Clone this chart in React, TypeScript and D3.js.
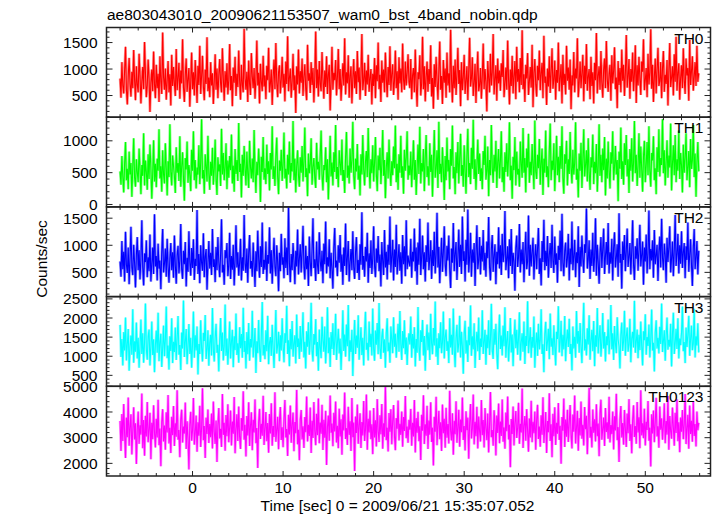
import React, { useLayoutEffect } from "react";
import * as d3 from "d3";

const TITLE = "ae803043010_20090621153507_wam0_bst_4band_nobin.qdp";
const X_LABEL = "Time [sec] 0 = 2009/06/21 15:35:07.052";
const Y_LABEL = "Counts/sec";
const T_START = -8;
const T_END = 56;
const X_DOMAIN = [-9.5, 57.2];
const X_MAJOR_TICKS = [0, 10, 20, 30, 40, 50];
const X_MINOR_STEP = 2;

const TH0 = [
  820, 460, 1130, 690, 540, 980, 1420, 610, 330, 870, 1210, 720, 480, 950, 640, 1360, 790, 410, 1050, 700,
  560, 1290, 880, 350, 760, 1040, 620, 1510, 930, 470, 690, 1180, 820, 190, 740, 990, 580, 1330, 710, 450,
  1080, 640, 910, 380, 1240, 770, 530, 1690, 850, 610, 1010, 420, 780, 1150, 560, 900, 310, 1270, 680, 1040,
  720, 490, 1380, 600, 830, 1120, 440, 970, 730, 1560, 650, 380, 890, 1200, 570, 810, 1020, 290, 750, 1310,
  620, 940, 500, 1170, 780, 360, 1060, 700, 1440, 530, 860, 1250, 670, 410, 990, 720, 1600, 580, 840, 470,
  1130, 690, 920, 340, 770, 1280, 610, 1010, 450, 880, 1190, 730, 560, 1390, 820, 400, 960, 650, 1110, 520,
  790, 1470, 600, 870, 300, 1030, 740, 1230, 490, 910, 660, 1350, 780, 420, 1080, 700, 560, 1760, 830, 610,
  950, 380, 1160, 720, 510, 1300, 860, 640, 1020, 440, 800, 1540, 690, 930, 350, 1100, 760, 580, 1250, 670,
  880, 430, 1060, 790, 1400, 560, 730, 990, 320, 850, 1180, 620, 1490, 760, 470, 940, 1070, 540, 800, 1230,
  650, 910, 390, 1140, 720, 1620, 580, 830, 1010, 460, 770, 1290, 600, 880, 170, 1050, 710, 1370, 540, 960,
  740, 1200, 490, 860, 1090, 630, 410, 1460, 780, 920, 550, 1130, 700, 1020, 370, 840, 1710, 640, 990, 480,
  1150, 720, 580, 1320, 810, 440, 970, 660, 1240, 530, 890, 1080, 220, 760, 1420, 610, 930, 790, 1170, 500,
  850, 1380, 620, 1000, 400, 780, 1110, 690, 1580, 520, 940, 730, 1260, 460, 870, 1050, 350, 820, 1190, 640,
  960, 530, 1340, 750, 1030, 420, 880, 1660, 600, 790, 1120, 490, 970, 710, 1270, 570, 830, 1000, 330, 910,
  680, 1210, 450, 1070, 770, 1500, 620, 890, 380, 1160, 740, 990, 560, 1310, 820, 470, 1040, 700, 1430, 590,
  900, 1090, 510, 780, 1350, 640, 960, 420, 1220, 730, 1010, 560, 1480, 800, 610, 1140, 690, 930, 1280, 760,
  640, 1190, 430, 880, 1020, 560, 1370, 700, 290, 940, 810, 1260, 500, 730, 1610, 620, 1050, 390, 860, 1140,
  570, 1000, 720, 1450, 480, 830, 250, 1090, 660, 1230, 780, 420, 960, 1520, 610, 870, 340, 1170, 740, 1010,
  460, 1310, 690, 920, 560, 1740, 800, 370, 1060, 640, 1180, 510, 890, 1400, 720, 980, 300, 1130, 600, 850,
  1270, 530, 780, 1050, 410, 960, 1590, 670, 820, 1220, 490, 740, 1100, 360, 910, 1330, 580, 700, 1020, 440,
  880, 1480, 620, 1000, 750, 200, 1150, 830, 560, 1290, 690, 940, 1660, 520, 810, 1070, 400, 1200, 730, 970,
  590, 1110, 850, 1360, 470, 720, 1030, 610, 1540, 800, 330, 990, 680, 1250, 540, 870, 1150, 430, 1420, 760,
  1000, 560, 1210, 700, 1730, 620, 900, 380, 1080, 820, 1300, 510, 770, 1040, 650, 1460, 280, 930, 1190, 710,
  480, 1060, 790, 1350, 600, 920, 1120, 450, 1630, 740, 860, 320, 1010, 670, 1240, 550, 950, 1390, 630, 810,
  1160, 420, 980, 740, 1500, 580, 830, 1090, 350, 1270, 700, 910, 520, 1440, 780, 1030, 610, 1180, 240, 880,
  690, 1320, 560, 1010, 820, 1580, 470, 750, 1140, 640, 920, 1270, 390, 1060, 720, 1470, 590, 860, 1000, 430,
  1230, 680, 940, 350, 1120, 790, 1680, 540, 870, 1050, 610, 1340, 750, 460, 990, 1200, 640, 1530, 810, 570,
  910, 1080, 400, 1260, 730, 960, 1410, 620, 840, 260, 1150, 700, 1020, 560, 1370, 780, 1080, 490, 930, 1640,
  650, 870, 1190, 440, 1000, 760, 1310, 580, 900, 1450, 360, 1070, 690, 1230, 820, 510, 1140, 950, 1560, 600,
  790, 1020, 470, 1290, 710, 930, 1750, 630, 1080, 380, 860, 1200, 540, 990, 1400, 680, 770, 1130, 450, 1010,
  1340, 570, 890, 720, 1170, 310, 960, 1490, 660, 840, 1050, 500, 1280, 760, 1610, 590, 920, 1110, 420, 830,
  1070, 640, 1390, 780, 530, 1200, 880, 1020, 400, 1550, 700, 960, 1240, 590, 850, 1130, 680, 1440, 760, 920,
];

const TH1 = [
  520, 310, 760, 440, 190, 640, 980, 380, 560, 240, 830, 470, 650, 120, 590, 1040, 420, 280, 710, 500,
  350, 880, 560, 160, 620, 450, 1120, 300, 690, 510, 230, 790, 400, 940, 580, 90, 480, 1010, 360, 640,
  270, 720, 530, 1180, 410, 600, 200, 850, 470, 330, 960, 560, 140, 680, 430, 1260, 520, 300, 770, 610,
  440, 180, 900, 500, 650, 370, 1070, 280, 590, 820, 420, 60, 730, 550, 990, 340, 620, 460, 210, 860,
  530, 1150, 380, 700, 250, 580, 470, 930, 320, 660, 1340, 410, 540, 170, 790, 600, 360, 1080, 490, 230,
  670, 450, 890, 310, 560, 1020, 400, 150, 740, 520, 630, 290, 1190, 470, 810, 380, 580, 960, 240, 690,
  420, 760, 540, 1100, 330, 610, 200, 870, 480, 700, 370, 1280, 510, 640, 110, 780, 450, 920, 560, 300,
  830, 490, 260, 1000, 590, 410, 720, 350, 1170, 530, 180, 670, 460, 880, 620, 40, 750, 510, 1060, 390,
  570, 320, 940, 480, 680, 220, 810, 550, 1230, 400, 600, 290, 760, 1050, 440, 160, 690, 530, 860, 370,
  630, 1130, 410, 560, 250, 780, 470, 990, 340, 650, 520, 1310, 380, 720, 190, 600, 850, 450, 280, 740,
  500, 920, 360, 680, 1210, 430, 570, 130, 800, 490, 640, 1040, 310, 590, 730, 420, 260, 970, 550, 670,
  390, 760, 1160, 480, 220, 620, 540, 900, 350, 710, 80, 580, 1080, 440, 660, 300, 820, 510, 1250, 400,
  590, 270, 850, 640, 460, 1020, 370, 540, 180, 750, 1140, 420, 610, 330, 880, 500, 690, 1300, 450, 240,
  720, 520, 950, 390, 610, 140, 790, 470, 1090, 560, 300, 680, 840, 430, 1200, 580, 250, 710, 490, 930,
  360, 650, 1060, 480, 210, 770, 540, 890, 320, 620, 1170, 450, 700, 100, 580, 820, 410, 1020, 530, 290,
  680, 460, 910, 570, 1240, 350, 640, 230, 790, 500, 1080, 420, 600, 170, 860, 530, 740, 1150, 390, 610,
  460, 830, 270, 620, 1010, 390, 700, 150, 560, 940, 480, 1220, 330, 650, 520, 870, 210, 740, 1090, 430,
  600, 300, 960, 510, 780, 120, 690, 1170, 420, 570, 850, 260, 1300, 480, 640, 350, 900, 550, 70, 760,
  380, 1050, 520, 700, 240, 870, 610, 1240, 410, 590, 160, 820, 490, 980, 330, 720, 1110, 450, 620, 280,
  930, 540, 170, 760, 1190, 430, 650, 320, 890, 560, 1330, 400, 710, 230, 600, 1020, 480, 800, 370, 570,
  240, 840, 620, 1080, 390, 530, 910, 130, 700, 460, 1250, 580, 340, 780, 520, 1000, 260, 660, 870, 410,
  690, 1150, 350, 590, 200, 820, 510, 960, 440, 720, 1290, 380, 610, 90, 750, 540, 1060, 300, 830, 470,
  560, 280, 990, 640, 420, 1200, 500, 730, 190, 880, 580, 1110, 340, 670, 460, 950, 610, 240, 1320, 520,
  400, 780, 570, 1030, 310, 650, 880, 150, 720, 500, 1160, 430, 600, 270, 840, 1270, 380, 690, 540, 960,
  210, 610, 1080, 460, 750, 350, 920, 560, 1230, 420, 170, 790, 640, 1000, 300, 710, 480, 1140, 580, 330,
  860, 470, 650, 1290, 390, 560, 110, 800, 530, 970, 260, 690, 1180, 440, 620, 850, 360, 1040, 500, 230,
  740, 580, 1100, 320, 670, 490, 950, 200, 610, 1260, 450, 780, 350, 880, 540, 1060, 140, 720, 410, 990,
  530, 250, 820, 640, 1150, 380, 590, 920, 470, 700, 50, 830, 560, 1210, 400, 680, 310, 960, 620, 1090,
  440, 710, 180, 870, 530, 1040, 360, 650, 1310, 490, 780, 290, 600, 1120, 420, 910, 570, 200, 760, 1000,
  350, 620, 980, 460, 1230, 540, 280, 810, 690, 1070, 380, 570, 160, 900, 510, 1180, 440, 730, 620, 1340,
  490, 850, 300, 660, 1010, 420, 770, 580, 1270, 220, 640, 930, 460, 1090, 350, 710, 530, 1160, 400, 810,
  610, 190, 940, 500, 730, 1120, 380, 590, 840, 270, 1030, 560, 690, 1250, 430, 800, 120, 660, 980, 520,
];

const TH2 = [
  700, 420, 1080, 560, 880, 330, 1250, 640, 490, 960, 280, 760, 1340, 590, 450, 1010, 680, 220, 830, 1150,
  540, 910, 370, 740, 1460, 600, 260, 850, 690, 1090, 410, 780, 520, 1200, 330, 650, 960, 470, 1570, 610,
  800, 350, 1030, 570, 720, 190, 880, 1300, 500, 660, 940, 420, 1120, 610, 310, 760, 1040, 540, 870, 400,
  1180, 630, 290, 820, 990, 480, 710, 1390, 560, 380, 900, 650, 1060, 240, 770, 510, 1260, 690, 440, 950,
  580, 1110, 360, 750, 620, 1650, 470, 840, 300, 1000, 680, 530, 1220, 410, 790, 930, 180, 660, 1080, 570,
  860, 450, 1300, 600, 740, 320, 970, 540, 1150, 690, 410, 830, 1480, 500, 640, 270, 910, 760, 1040, 430,
  620, 1230, 380, 800, 550, 1010, 260, 720, 1370, 590, 870, 440, 680, 1120, 350, 780, 530, 1560, 660, 490,
  940, 310, 850, 1190, 570, 710, 420, 1050, 640, 230, 890, 520, 1270, 760, 400, 980, 600, 1420, 470, 730,
  550, 1070, 340, 820, 660, 1330, 480, 910, 290, 770, 1140, 600, 430, 1000, 700, 150, 860, 520, 1210, 640,
  780, 390, 1130, 580, 960, 450, 1700, 670, 320, 840, 540, 1040, 720, 280, 900, 610, 1290, 460, 750, 1020,
  500, 880, 1360, 620, 370, 990, 560, 800, 250, 1160, 690, 430, 920, 1500, 580, 740, 340, 1070, 630, 470,
  1240, 710, 520, 900, 300, 1030, 650, 1440, 480, 780, 610, 1110, 390, 860, 560, 200, 950, 1320, 590, 720,
  430, 1000, 680, 1190, 510, 830, 270, 960, 620, 1400, 450, 770, 1080, 330, 690, 930, 540, 1260, 600, 380,
  870, 1150, 490, 730, 360, 1020, 640, 1610, 550, 800, 420, 970, 700, 1230, 310, 850, 580, 1090, 470, 760,
  1350, 620, 410, 940, 680, 1170, 520, 830, 240, 1060, 710, 450, 1280, 590, 880, 370, 1010, 640, 1530, 500,
  790, 1100, 350, 920, 600, 1380, 460, 740, 1020, 530, 870, 290, 1190, 650, 980, 430, 1460, 560, 810, 680,
  610, 1120, 400, 880, 700, 1310, 520, 960, 270, 1050, 640, 1490, 450, 790, 1180, 560, 870, 330, 1000, 690,
  1420, 540, 760, 1090, 380, 910, 620, 1250, 480, 820, 1600, 590, 970, 300, 730, 1140, 510, 880, 1350, 650,
  430, 990, 720, 1180, 560, 210, 940, 680, 1410, 520, 840, 1060, 360, 770, 1290, 600, 1010, 470, 1530, 710,
  890, 330, 1100, 640, 1660, 500, 780, 1230, 420, 920, 680, 1040, 250, 860, 1370, 560, 720, 1150, 460, 990,
  700, 1280, 540, 860, 420, 1070, 760, 1520, 600, 350, 930, 1190, 510, 810, 1020, 280, 880, 650, 1330, 570,
  1000, 450, 1210, 690, 830, 1630, 540, 740, 980, 390, 1110, 620, 1300, 470, 860, 710, 160, 950, 1180, 600,
  780, 1390, 500, 920, 650, 1060, 320, 830, 1250, 560, 700, 1550, 440, 1010, 610, 880, 1140, 370, 790, 1020,
  560, 940, 1320, 470, 760, 260, 1080, 690, 1470, 540, 900, 620, 1170, 400, 820, 1040, 580, 1380, 720, 490,
  1160, 640, 850, 310, 990, 730, 1270, 520, 1580, 680, 430, 900, 1050, 590, 760, 1210, 350, 940, 650, 1440,
  540, 800, 1100, 410, 870, 670, 1350, 230, 970, 610, 1180, 760, 490, 1020, 860, 1680, 570, 740, 1090, 380,
  920, 620, 1230, 510, 780, 1500, 440, 1010, 690, 290, 860, 1150, 580, 930, 1310, 470, 800, 1060, 640, 1410,
  480, 870, 660, 1120, 350, 950, 1240, 590, 770, 1020, 420, 1590, 680, 840, 200, 1070, 730, 1190, 520, 900,
  1310, 600, 790, 1040, 460, 880, 1460, 640, 360, 980, 750, 1130, 530, 910, 1380, 610, 820, 1070, 270, 960,
  700, 1200, 480, 850, 1640, 560, 930, 720, 1090, 400, 1280, 650, 810, 1010, 340, 890, 1160, 590, 1490, 770,
  540, 1030, 820, 310, 1140, 690, 960, 1350, 500, 760, 1070, 430, 920, 1560, 620, 840, 1210, 480, 1000, 660,
  1260, 580, 870, 1040, 390, 980, 730, 1420, 510, 820, 1110, 640, 250, 950, 1300, 560, 780, 1080, 460, 900,
];

const TH3 = [
  1820, 980, 1450, 760, 1630, 1150, 2010, 890, 1320, 1710, 620, 1260, 1540, 1040, 2230, 830, 1390, 1120, 1880, 940,
  1480, 700, 1270, 1960, 1060, 1600, 830, 1350, 2380, 1180, 910, 1520, 1700, 760, 1240, 1910, 1030, 1440, 580, 1300,
  1670, 1090, 2140, 870, 1360, 1590, 720, 1210, 1800, 1000, 1430, 2300, 950, 1280, 650, 1520, 1140, 1990, 820, 1380,
  1110, 1750, 900, 1470, 2050, 1040, 1290, 640, 1620, 1200, 2460, 980, 1370, 1710, 790, 1250, 1840, 1060, 1480, 700,
  1330, 2170, 960, 1550, 1150, 1780, 520, 1320, 1060, 1940, 1230, 860, 1610, 1400, 2080, 930, 1190, 1680, 750, 1350,
  1560, 1020, 2260, 1170, 860, 1490, 1850, 1090, 1300, 600, 1420, 2000, 1140, 1620, 890, 1270, 2350, 1010, 1460, 780,
  1240, 1910, 940, 1380, 1690, 710, 1520, 1160, 2120, 1030, 1340, 830, 1760, 1210, 1580, 960, 2270, 1110, 1400, 680,
  1630, 1050, 1870, 880, 1450, 1230, 2190, 970, 1310, 1740, 560, 1390, 1080, 1950, 1200, 850, 1570, 2420, 1020, 1290,
  920, 1680, 1130, 2060, 790, 1360, 1500, 1010, 1820, 1190, 690, 1440, 2210, 1070, 1280, 1640, 870, 1550, 1150, 1990,
  1270, 840, 1600, 1350, 2320, 1060, 1420, 740, 1710, 1180, 1920, 990, 1330, 1550, 810, 2090, 1240, 1460, 930, 1790,
  1120, 1510, 2150, 970, 1380, 680, 1650, 1250, 1890, 1040, 1430, 2400, 1160, 860, 1580, 1300, 1970, 1000, 1370, 620,
  1700, 1230, 950, 2030, 1410, 1120, 1780, 810, 1320, 2280, 1080, 1490, 720, 1630, 1190, 1860, 1030, 1400, 2110, 900,
  1350, 1720, 1070, 1460, 640, 1290, 2200, 1140, 1570, 990, 1830, 1260, 2340, 870, 1420, 1110, 1690, 480, 1310, 1950,
  1060, 1540, 1220, 2070, 910, 1380, 1760, 1030, 1480, 760, 1640, 2160, 1170, 1350, 890, 1910, 1240, 1590, 1020, 2250,
  1190, 880, 1670, 1300, 1870, 1050, 2390, 1210, 930, 1500, 1720, 1090, 1440, 700, 1610, 1990, 1130, 1360, 830, 1780,
  1440, 1080, 2020, 1250, 1590, 960, 1400, 1850, 1120, 2180, 1330, 900, 1660, 1210, 1940, 1050, 1490, 770, 1370, 1600,
  1310, 2040, 960, 1580, 1200, 1760, 730, 1450, 1090, 2290, 1250, 880, 1680, 1370, 1950, 1020, 1530, 620, 1410, 1830,
  1160, 1620, 900, 2110, 1340, 1050, 1740, 1280, 2430, 990, 1470, 770, 1600, 1210, 1890, 1080, 1360, 2170, 940, 1500,
  1700, 1140, 1390, 820, 1990, 1230, 1560, 1040, 2250, 1170, 710, 1480, 1820, 1100, 1330, 2060, 970, 1640, 1260, 540,
  1590, 1930, 1070, 1420, 850, 1770, 1290, 2330, 1010, 1520, 1180, 1860, 690, 1350, 1640, 1130, 2010, 900, 1460, 1240,
  2200, 1060, 1380, 1690, 780, 1560, 1210, 1940, 1030, 1440, 2370, 1150, 930, 1710, 1300, 1850, 1080, 660, 1490, 2090,
  1190, 1540, 1020, 1800, 1260, 2280, 960, 1410, 1660, 860, 1320, 2000, 1100, 1570, 740, 1430, 1960, 1210, 1690, 1040,
  1480, 2150, 890, 1360, 1600, 1120, 1910, 800, 1530, 1270, 2440, 1080, 1390, 1760, 960, 1500, 1220, 2040, 700, 1340,
  1620, 1010, 1850, 1180, 1420, 2230, 1060, 1310, 580, 1590, 1900, 1140, 1380, 1720, 920, 2120, 1250, 1470, 1030, 1810,
  1290, 760, 1640, 1450, 2310, 1100, 1370, 1930, 1000, 1560, 1180, 2050, 870, 1410, 1700, 1240, 1980, 1060, 1320, 630,
  1780, 1200, 1510, 960, 2180, 1330, 1660, 1090, 1870, 1260, 820, 1620, 2400, 1150, 1440, 1020, 1730, 1310, 2070, 910,
  1400, 1690, 1130, 1920, 740, 1550, 1250, 2260, 1070, 1480, 1810, 990, 1360, 2130, 1200, 1630, 860, 1520, 1290, 1960,
  1050, 1450, 2340, 1180, 1600, 900, 1790, 1330, 1080, 2020, 1430, 1260, 680, 1570, 1880, 1140, 1390, 2190, 1010, 1510,
  1750, 1120, 1310, 1980, 840, 1470, 1640, 1230, 2450, 1090, 1380, 1700, 950, 1560, 1160, 1910, 1280, 760, 1650, 1420,
  2100, 1040, 1500, 1270, 1830, 970, 1410, 2220, 1150, 1350, 600, 1620, 1940, 1200, 1480, 1070, 1770, 1320, 2380, 1110,
  1390, 1680, 880, 1540, 2010, 1170, 1430, 1250, 1850, 730, 1580, 2140, 1060, 1340, 1720, 1190, 1990, 940, 1460, 1290,
  1620, 2300, 1130, 1370, 820, 1750, 1240, 1560, 2060, 1010, 1450, 1800, 1160, 1330, 2240, 970, 1520, 1280, 1860, 1100,
];

const TH0123 = [
  3650, 2480, 3920, 2870, 4310, 3140, 2210, 3780, 3020, 4560, 2690, 3400, 3910, 2350, 3260, 4180, 2930, 3560, 1980, 3330,
  4020, 2760, 3480, 3120, 4720, 2590, 3690, 2300, 3850, 3050, 4390, 2820, 3310, 3970, 2160, 3580, 2940, 4260, 3180, 2620,
  3740, 3010, 4480, 2710, 3360, 1890, 3620, 4110, 2850, 3470, 2530, 3990, 3200, 4660, 2770, 3390, 2400, 3810, 3100, 4230,
  2680, 3560, 3040, 4850, 2920, 3300, 2240, 3720, 4090, 2810, 3430, 3160, 4370, 2560, 3640, 2990, 1760, 3510, 4010, 2880,
  3270, 4540, 2730, 3180, 3860, 2450, 3600, 3080, 4240, 2640, 3370, 4920, 2900, 3450, 2210, 3780, 3140, 4100, 2790, 3530,
  3020, 3940, 2580, 4410, 3230, 2760, 3670, 2050, 3490, 4150, 2970, 3350, 2640, 4700, 3110, 3580, 2490, 3880, 3060, 4300,
  2820, 3410, 4060, 2700, 3630, 3150, 4580, 2390, 3320, 3910, 2870, 4210, 3040, 2560, 3760, 3270, 4810, 2920, 3500, 2270,
  3840, 3090, 4380, 2680, 3460, 3990, 2510, 3700, 3200, 4490, 2780, 3380, 1820, 3620, 4120, 2950, 3540, 3080, 4630, 2720,
  3330, 4000, 2860, 3570, 2410, 3920, 3160, 4340, 2690, 3450, 3030, 4770, 2840, 3290, 3810, 2550, 3680, 4190, 2910, 3400,
  2630, 3750, 4470, 3010, 3340, 2290, 3890, 3120, 4250, 2800, 3520, 3980, 2470, 3610, 3170, 4860, 2740, 3310, 2120, 3710,
  4080, 2930, 3440, 2600, 3800, 3210, 4600, 2850, 3500, 3070, 4170, 2400, 3660, 2990, 4390, 3250, 2710, 3930, 3100, 4520,
  2780, 3590, 3150, 4280, 2520, 3700, 3000, 4050, 1940, 3420, 3860, 2880, 4640, 3190, 3550, 2670, 3970, 3240, 4410, 2810,
  3460, 2590, 4130, 3050, 3720, 2340, 3900, 3280, 4760, 2950, 3370, 2720, 4200, 3110, 3640, 2480, 4540, 3020, 3590, 1700,
  3820, 3180, 4290, 2760, 3480, 3950, 2600, 3610, 3090, 4430, 2870, 3310, 4680, 2530, 3740, 3200, 4060, 2940, 3520, 2360,
  4150, 3010, 3680, 2660, 4500, 3240, 2830, 3870, 3130, 4310, 2570, 3560, 3040, 4990, 2900, 3390, 2460, 3960, 3230, 4110,
  2740, 3630, 4270, 3080, 2510, 3760, 3350, 4450, 2890, 3540, 3110, 4020, 2650, 3800, 3260, 4620, 2980, 3430, 2800, 3700,
  3310, 4120, 2690, 3580, 3050, 4470, 2420, 3760, 3190, 4010, 2860, 3440, 2130, 3890, 3270, 4650, 2750, 3520, 3080, 4240,
  2560, 3670, 3120, 4380, 2830, 3390, 1920, 3810, 3230, 4590, 2710, 3480, 4050, 2940, 3600, 2480, 4290, 3170, 3740, 2610,
  4160, 3000, 3530, 2770, 4830, 3260, 2890, 3950, 2340, 3660, 3130, 4420, 2800, 3380, 4090, 2650, 3710, 3210, 4560, 2910,
  3450, 2500, 4030, 3290, 3780, 2180, 3570, 4310, 2970, 3350, 4680, 2740, 3620, 3060, 4200, 2580, 3820, 3240, 2850, 4470,
  3100, 3690, 2620, 4150, 3370, 2900, 3940, 2420, 3510, 4780, 3020, 3300, 2690, 4070, 3560, 2310, 3860, 3180, 4330, 2780,
  3630, 3070, 4490, 2840, 3400, 2570, 3980, 3250, 4600, 2930, 3500, 1850, 3730, 3140, 4210, 2700, 3590, 4040, 2990, 3360,
  4360, 2760, 3540, 3200, 4910, 2600, 3470, 3840, 2880, 4110, 3290, 2450, 3750, 3010, 4440, 2820, 3620, 3170, 4020, 2530,
  3690, 4280, 2950, 3430, 2650, 3870, 3110, 4570, 2790, 3390, 4000, 2400, 3650, 3210, 4730, 2870, 3520, 2240, 3930, 3060,
  4180, 2720, 3580, 3150, 4350, 2910, 3460, 1990, 3800, 3270, 4520, 2640, 3710, 3040, 4090, 2830, 3560, 4270, 3120, 2580,
  3900, 3230, 4640, 2770, 3370, 4050, 2490, 3760, 3090, 4410, 2960, 3500, 2700, 4190, 3330, 3850, 2360, 3640, 4940, 3000,
  3420, 2620, 4100, 3190, 3720, 2850, 4300, 3060, 3550, 2280, 3960, 4480, 2920, 3340, 3780, 2680, 4150, 3220, 3600, 2960,
  4590, 2810, 3490, 3140, 4020, 2540, 3830, 3280, 4710, 2900, 3410, 2050, 3730, 4230, 3010, 3570, 2730, 4080, 3350, 2640,
  3940, 3170, 4500, 2870, 3520, 2390, 3680, 4260, 3030, 3450, 2760, 4390, 3200, 3790, 2590, 4850, 3090, 3560, 2980, 4130,
  2700, 3620, 3300, 4430, 2880, 3390, 1880, 3910, 3160, 4060, 2820, 3580, 4550, 3050, 3440, 2610, 4210, 3310, 3750, 2920,
  3480, 4340, 2780, 3650, 3120, 4620, 2530, 3840, 3250, 2960, 4170, 3400, 2690, 3970, 3180, 4490, 2860, 3600, 2430, 3780,
  3230, 4080, 2940, 3510, 4700, 2750, 3370, 3890, 2570, 4250, 3140, 3660, 2840, 4400, 3070, 3530, 2660, 4020, 3290, 3580,
];

const PANEL_NAMES = ["TH0", "TH1", "TH2", "TH3", "TH0123"];
const PANEL_SERIES = [TH0, TH1, TH2, TH3, TH0123];
const PANEL_COLORS = ["#ff0000", "#00ff00", "#0000ff", "#00ffff", "#ff00ff"];
const Y_DOMAINS = [
  [91, 1784],
  [-38, 1371],
  [53, 1708],
  [213, 2560],
  [1508, 5000],
];
const Y_TICKS = [
  [500, 1000, 1500],
  [0, 500, 1000],
  [500, 1000, 1500],
  [500, 1000, 1500, 2000, 2500],
  [2000, 3000, 4000, 5000],
];
const Y_MINOR_STEP = [100, 100, 100, 100, 200];

const W = 717;
const H = 516;
const LEFT = 106.5;
const RIGHT = 710.5;
const TOP = 27.5;
const BOTTOM = 476;
const FS = 15.5;
const FONT = "'Liberation Sans', Arial, Helvetica, sans-serif";

export default function App() {
  useLayoutEffect(() => {
    document.body.style.margin = "0";
  }, []);

  const x = d3.scaleLinear().domain(X_DOMAIN).range([LEFT, RIGHT]);
  const panelH = (BOTTOM - TOP) / PANEL_NAMES.length;
  const xMinor = d3.range(T_START, T_END + 0.001, X_MINOR_STEP);

  const panels = PANEL_SERIES.map((series, i) => {
    const y0 = TOP + i * panelH;
    const y1 = y0 + panelH;
    const y = d3.scaleLinear().domain(Y_DOMAINS[i]).range([y1, y0]);
    const dt = (T_END - T_START) / series.length;
    const line = d3
      .line<number>()
      .x((_, j) => x(T_START + j * dt))
      .y((d) => y(d))
      .curve(d3.curveLinear);
    const d = line(series) || "";
    const [lo, hi] = Y_DOMAINS[i];
    const step = Y_MINOR_STEP[i];
    const minor = d3
      .range(Math.ceil(lo / step) * step, hi + 0.001, step)
      .filter((v) => !Y_TICKS[i].includes(v));
    return (
      <g key={i}>
        <path
          d={d}
          fill="none"
          stroke={PANEL_COLORS[i]}
          strokeOpacity={0.45}
          strokeWidth={2.6}
          strokeLinejoin="miter"
          strokeMiterlimit={1.5}
        />
        <path
          d={d}
          fill="none"
          stroke={PANEL_COLORS[i]}
          strokeWidth={1.1}
          strokeLinejoin="miter"
          strokeMiterlimit={2}
        />
        {minor.map((v) => (
          <g key={"m" + v}>
            <line x1={LEFT} x2={LEFT + 3} y1={y(v)} y2={y(v)} stroke="#222" strokeWidth={1} />
            <line x1={RIGHT} x2={RIGHT - 3} y1={y(v)} y2={y(v)} stroke="#222" strokeWidth={1} />
          </g>
        ))}
        {Y_TICKS[i].map((v) => (
          <g key={"M" + v}>
            <line x1={LEFT} x2={LEFT + 6} y1={y(v)} y2={y(v)} stroke="#222" strokeWidth={1} />
            <line x1={RIGHT} x2={RIGHT - 6} y1={y(v)} y2={y(v)} stroke="#222" strokeWidth={1} />
            <text
              x={LEFT - 9}
              y={y(v)}
              dy="0.36em"
              textAnchor="end"
              fontSize={FS}
              fontFamily={FONT}
              fill="#000"
            >
              {v}
            </text>
          </g>
        ))}
        {xMinor.map((t) => {
          const len = X_MAJOR_TICKS.includes(t) ? 5 : 3;
          return (
            <g key={"x" + t}>
              <line x1={x(t)} x2={x(t)} y1={y0} y2={y0 + len} stroke="#222" strokeWidth={1} />
              <line x1={x(t)} x2={x(t)} y1={y1} y2={y1 - len} stroke="#222" strokeWidth={1} />
            </g>
          );
        })}
        <text x={703.5} y={y0 + 16} textAnchor="end" fontSize={FS} fontFamily={FONT} fill="#000">
          {PANEL_NAMES[i]}
        </text>
        <rect
          x={LEFT}
          y={y0}
          width={RIGHT - LEFT}
          height={panelH}
          fill="none"
          stroke="#222"
          strokeWidth={1.5}
        />
      </g>
    );
  });

  return (
    <svg width={W} height={H} style={{ display: "block", background: "#fff" }}>
      <rect x={0} y={0} width={W} height={H} fill="#fff" />
      <text x={107} y={19.5} fontSize={FS} fontFamily={FONT} fill="#000">
        {TITLE}
      </text>
      {panels}
      {X_MAJOR_TICKS.map((t) => (
        <text
          key={"xl" + t}
          x={x(t)}
          y={493}
          textAnchor="middle"
          fontSize={FS}
          fontFamily={FONT}
          fill="#000"
        >
          {t}
        </text>
      ))}
      <text x={397.5} y={511} textAnchor="middle" fontSize={FS} fontFamily={FONT} fill="#000">
        {X_LABEL}
      </text>
      <text
        transform={`translate(46.5, 259) rotate(-90)`}
        textAnchor="middle"
        fontSize={FS}
        fontFamily={FONT}
        fill="#000"
      >
        {Y_LABEL}
      </text>
    </svg>
  );
}
